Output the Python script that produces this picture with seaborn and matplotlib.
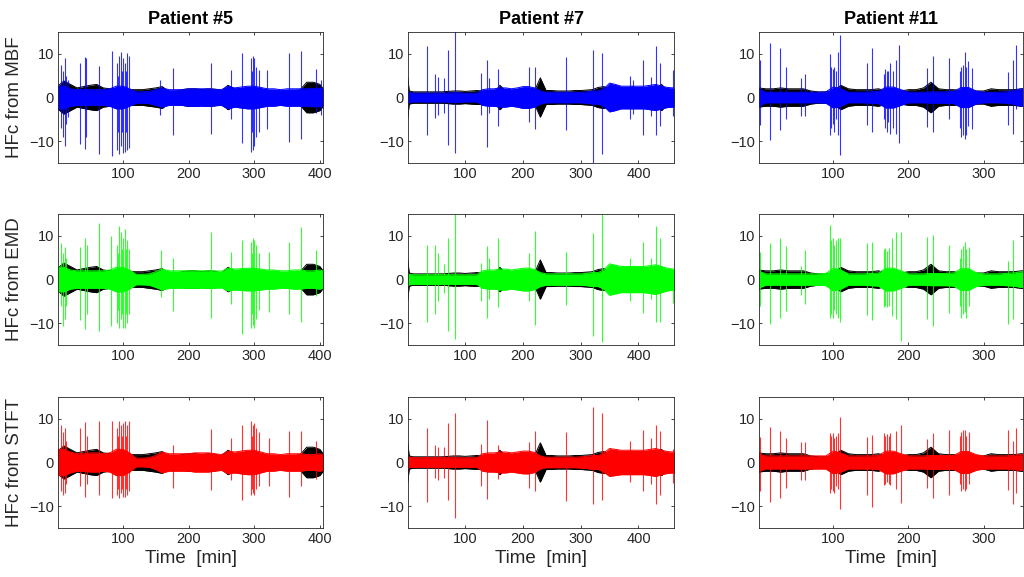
import numpy as np
import pandas as pd
import matplotlib
matplotlib.use("Agg")
import matplotlib.pyplot as plt
import seaborn as sns

# ---------------- data ----------------
patients = ["Patient #5", "Patient #7", "Patient #11"]
methods = ["MBF", "EMD", "STFT"]
method_colors = {"MBF": "#0000ff", "EMD": "#00ff00", "STFT": "#ff0000"}
x_limits = {"Patient #5": (1, 405), "Patient #7": (1, 462), "Patient #11": (1, 352)}
y_ticks = [-10, 0, 10]
x_ticks = [100, 200, 300, 400]

# envelope knot times [min]
p5_knots = list(range(0, 401, 10)) + [405]
p7_knots = [0, 3] + list(range(10, 461, 10)) + [462]
p11_knots = list(range(0, 351, 10)) + [352]

# black (raw) signal half-amplitude envelope at knots
p5_black = [2.5, 3.8, 3.0, 2.2, 2.5, 2.8, 3.0, 2.2, 2.0, 2.0, 2.0, 1.8, 1.8, 1.8, 2.0, 2.2,
            2.5, 1.3, 1.4, 1.8, 2.0, 2.0, 1.8, 2.0, 1.9, 1.5, 2.8, 2.0, 1.8, 2.0, 1.8, 1.6,
            1.5, 1.3, 1.2, 1.4, 1.5, 1.8, 3.5, 3.5, 3.0, 2.0]
p7_black = [5.0, 1.5, 1.3, 1.3, 1.3, 1.3, 1.3, 1.3, 1.4, 1.5, 1.5, 1.4, 1.5, 1.6, 1.5, 1.0,
            1.0, 2.8, 1.5, 1.4, 1.4, 1.5, 1.5, 1.5, 4.5, 1.6, 1.6, 1.5, 1.5, 1.5, 1.6, 1.6,
            1.7, 1.8, 2.3, 2.5, 2.0, 2.0, 2.0, 2.0, 2.5, 2.0, 2.0, 2.0, 2.0, 3.0, 1.6, 1.5, 1.5]
p11_black = [2.2, 2.0, 2.0, 2.2, 2.0, 2.0, 2.0, 1.5, 1.3, 1.3, 1.5, 2.8, 2.0, 1.8, 1.8, 1.8,
             2.0, 1.5, 1.5, 1.5, 1.8, 1.8, 2.2, 3.5, 2.0, 1.8, 1.8, 1.6, 1.6, 1.5, 1.5, 2.0,
             1.8, 1.8, 1.8, 2.0, 2.0]

# coloured HFc half-amplitude envelope at knots
p5_mbf_env = [2.6, 2.6, 2.0, 1.8, 1.8, 1.8, 1.8, 1.8, 2.0, 2.6, 2.6, 2.0, 1.3, 1.3, 1.4, 1.8,
              2.2, 1.8, 1.8, 1.8, 2.0, 2.0, 2.0, 2.0, 1.9, 1.8, 2.6, 2.2, 2.4, 2.6, 2.6, 2.3,
              2.0, 2.0, 1.8, 2.0, 2.0, 2.0, 2.0, 2.1, 2.1, 2.0]
p5_emd_env = [2.8, 2.8, 2.2, 2.0, 2.0, 2.0, 2.0, 2.0, 2.2, 2.8, 2.8, 2.2, 1.2, 1.2, 1.3, 1.8,
              2.4, 2.0, 2.0, 2.0, 2.0, 2.0, 2.0, 2.0, 2.0, 1.9, 2.6, 2.4, 2.5, 2.6, 2.6, 2.4,
              2.2, 2.2, 2.0, 2.0, 2.2, 2.2, 2.0, 2.0, 2.2, 2.0]
p5_stft_env = [3.0, 3.0, 2.4, 2.0, 2.0, 2.2, 2.2, 2.0, 2.2, 3.0, 3.0, 2.2, 1.0, 1.0, 1.1, 1.6,
               2.4, 2.0, 2.0, 2.0, 2.0, 2.2, 2.2, 2.2, 2.0, 1.8, 2.6, 2.4, 2.6, 2.8, 2.8, 2.4,
               2.0, 2.0, 1.8, 2.0, 2.0, 2.0, 1.8, 1.8, 2.0, 1.8]
p7_mbf_env = [1.5, 1.2, 1.0, 1.0, 1.0, 1.0, 1.0, 1.0, 1.0, 1.1, 1.1, 1.0, 1.0, 1.0, 1.8, 2.0,
              2.0, 2.2, 2.2, 2.0, 2.2, 2.5, 2.5, 2.2, 1.5, 1.2, 1.2, 1.2, 1.2, 1.2, 1.2, 1.2,
              1.3, 1.5, 1.5, 2.0, 3.3, 3.0, 2.6, 2.6, 2.6, 2.6, 2.6, 2.8, 3.0, 2.6, 2.3, 2.2, 2.2]
p7_emd_env = [1.5, 1.2, 1.1, 1.1, 1.1, 1.1, 1.1, 1.1, 1.1, 1.1, 1.1, 1.1, 1.1, 1.1, 2.0, 2.2,
              2.2, 2.4, 2.4, 2.2, 2.4, 2.6, 2.6, 2.3, 1.6, 1.3, 1.3, 1.3, 1.3, 1.3, 1.3, 1.3,
              1.4, 1.6, 1.6, 2.2, 3.6, 3.3, 3.0, 3.0, 3.0, 3.0, 3.0, 3.2, 3.4, 3.0, 2.6, 2.4, 2.4]
p7_stft_env = [1.5, 1.2, 1.1, 1.1, 1.1, 1.1, 1.1, 1.1, 1.1, 1.1, 1.1, 1.1, 1.1, 1.1, 2.0, 2.2,
               2.2, 2.4, 2.4, 2.2, 2.4, 2.6, 2.6, 2.3, 1.5, 1.2, 1.2, 1.2, 1.2, 1.2, 1.2, 1.3,
               1.4, 1.6, 1.6, 2.2, 3.2, 3.0, 2.8, 2.8, 2.8, 2.8, 2.8, 3.0, 3.2, 2.8, 2.5, 2.4, 2.4]
p11_mbf_env = [2.0, 1.2, 1.2, 1.2, 1.2, 1.2, 1.2, 1.2, 1.2, 1.3, 2.4, 2.0, 1.2, 1.2, 1.2, 1.3,
               1.4, 2.4, 2.4, 1.8, 1.2, 1.2, 1.2, 1.3, 1.3, 1.3, 1.4, 2.3, 2.3, 1.5, 1.2, 1.2,
               1.2, 1.3, 1.5, 2.0, 2.0]
p11_emd_env = [2.0, 1.3, 1.3, 1.3, 1.3, 1.3, 1.3, 1.3, 1.3, 1.4, 2.6, 2.2, 1.3, 1.3, 1.3, 1.4,
               1.5, 2.6, 2.6, 2.0, 1.3, 1.3, 1.3, 1.4, 1.4, 1.4, 1.5, 2.5, 2.5, 1.6, 1.3, 1.3,
               1.3, 1.4, 1.5, 1.8, 1.8]
p11_stft_env = [2.0, 1.5, 1.5, 1.5, 1.5, 1.5, 1.5, 1.5, 1.5, 1.5, 2.6, 2.2, 1.5, 1.5, 1.5, 1.5,
                1.6, 2.6, 2.6, 2.0, 1.5, 1.5, 1.5, 1.6, 1.6, 1.6, 1.6, 2.5, 2.5, 1.8, 1.5, 1.5,
                1.5, 1.5, 1.6, 1.8, 1.8]

# spikes: (time [min], max, min)
p5_mbf_spikes = [(6, 7.5, -7), (9, 6, -9), (11, 9, -11), (14, 5, -6), (17, 4, -4.5),
                 (35, 8, -10.6), (42, 9.3, -11.7), (44, 9, -9), (64, 7.2, -12.9), (83, 10.6, -13.3),
                 (91, 8, -12), (93, 5, -8), (94, 9.5, -13), (97, 10.5, -11), (99, 6, -8),
                 (100, 9, -12.8), (103, 8, -12.5), (105, 6, -8), (106, 10.3, -12),
                 (109, 9.5, -11.5), (157, 4, -4), (177, 6.8, -8.7), (234, 8, -8.3),
                 (265, 6.4, -5), (281, 10.2, -10.4), (295, 9, -12.5), (297, 6, -8),
                 (298, 9.5, -12), (300, 9, -11), (303, 7, -9), (308, 6.4, -8), (320, 6.4, -7.2),
                 (353, 10.2, -10.2), (371, 10.6, -9.5), (394, 6.5, -3.5), (402, 4, -4)]
p5_emd_spikes = [(6, 8.3, -6), (9, 6, -10.6), (11, 7.5, -9), (14, 5, -6), (34, 7.4, -9.2),
                 (42, 9.5, -11.4), (45, 8, -8), (64, 12.9, -11.7), (82, 10, -10.6), (91, 8, -10),
                 (93, 6, -7), (94, 12.3, -11.2), (97, 11, -9), (99, 7, -8), (100, 9.5, -11.2),
                 (103, 11.5, -11), (105, 7, -8), (106, 9, -10), (109, 7, -8), (158, 6.8, -4),
                 (177, 4.9, -7.2), (234, 10.8, -8.9), (265, 6.4, -5.5), (281, 9.1, -12.5),
                 (295, 8.5, -11), (297, 6, -8), (298, 9.6, -10.5), (300, 9, -11), (303, 8, -9),
                 (308, 6, -7), (322, 6.4, -7.5), (353, 8.7, -8), (371, 12, -9.8), (394, 6.8, -3.8)]
p5_stft_spikes = [(6, 8.6, -6.5), (9, 7, -7.4), (11, 8, -7), (14, 5, -5), (34, 7.9, -5.5),
                  (42, 9.2, -7.8), (45, 6, -5), (64, 9.4, -7.4), (83, 9.4, -8.2), (91, 8, -7.5),
                  (93, 6, -6), (94, 9.4, -8.2), (97, 8.5, -7), (99, 6, -6), (100, 9, -8),
                  (103, 9.4, -7.8), (105, 6, -6), (106, 8.5, -7.5), (109, 9.4, -6.5),
                  (177, 4, -5.9), (234, 7.6, -6.3), (265, 5.5, -4), (281, 8.6, -8.5),
                  (295, 9.4, -7.4), (297, 6, -6), (298, 8.5, -7), (300, 9, -7.4), (303, 8, -6),
                  (308, 7, -5.5), (322, 5.5, -5.5), (353, 7.1, -7.9), (371, 7.1, -5.5),
                  (394, 5, -3.8)]
p7_mbf_spikes = [(34, 11.9, -8.6), (48, 5.5, -4.7), (53, 4.7, -4.1), (64, 4.5, -3.5),
                 (71, 10.8, -10.9), (83, 16, -12.8), (127, 5.6, -4.1), (138, 8.5, -11.3),
                 (141, 4.5, -3.5), (156, 6.5, -6.6), (211, 7.1, -5.5), (220, 7.1, -7.1),
                 (274, 9.2, -7.5), (321, 10.9, -16), (337, 10.3, -13), (385, 4.9, -4.9),
                 (390, 4, -3.8), (408, 8.6, -8.6), (421, 4.8, -4.2), (431, 11.8, -8.6),
                 (438, 7.9, -6.6), (459, 6.4, -4.2)]
p7_emd_spikes = [(34, 8, -9.8), (48, 8, -8), (53, 6, -4.9), (64, 3.5, -3), (71, 9.6, -11.7),
                 (83, 16, -13.6), (127, 3.8, -4.9), (138, 7.6, -8.7), (141, 5, -4.5),
                 (156, 9.6, -6.4), (211, 6, -4.9), (220, 11.2, -10.5), (274, 6.4, -5.9),
                 (321, 10.6, -12.9), (337, 16, -14.2), (385, 5, -4.9), (408, 8.7, -7.6),
                 (421, 5, -4.5), (431, 12.3, -9.7), (438, 9.6, -9.8), (459, 2.5, -5.3)]
p7_stft_spikes = [(34, 7.9, -9.1), (48, 4, -3.5), (53, 3.6, -4), (64, 3.6, -3.5), (71, 9, -8.7),
                  (83, 11.3, -12.7), (127, 4.3, -5.5), (138, 9.8, -8.3), (156, 4, -3.8),
                  (211, 4.8, -5.9), (220, 7.1, -6.6), (274, 7, -8.9), (321, 12.8, -9.5),
                  (337, 11.3, -8.7), (385, 5, -4.5), (408, 7.5, -6.6), (421, 5.6, -5),
                  (431, 8.6, -9.5), (438, 7.1, -7.4), (459, 3, -4.8)]
p11_mbf_spikes = [(2, 8.6, -6.4), (15, 12.4, -9.8), (29, 11.3, -7.5), (37, 7.1, -4.9),
                  (57, 4.5, -4.2), (62, 5.5, -4.2), (95, 10, -8.6), (97, 7, -7), (99, 6.5, -6),
                  (101, 7, -8), (103, 6, -5), (106, 10.5, -8.5), (109, 14.3, -13.2),
                  (145, 7.9, -6.4), (152, 11.3, -7.9), (167, 5.5, -5), (169, 6.5, -7),
                  (171, 6, -8), (173, 6, -5.5), (176, 7.9, -8.3), (180, 6, -7),
                  (184, 8.5, -8.3), (188, 12, -10.5), (224, 6.7, -6.8), (233, 9.4, -7.9),
                  (254, 9, -4.9), (268, 6, -7), (270, 7, -9), (272, 7.5, -8.5),
                  (275, 10.5, -9.4), (277, 7, -8.5), (279, 8.3, -6.5), (284, 6.7, -7.3),
                  (333, 5.9, -6.4), (339, 8.6, -8.3), (343, 12, -2.6)]
p11_emd_spikes = [(2, 6.4, -6.1), (15, 8.3, -10.2), (29, 9.5, -8.7), (37, 7.6, -7.2),
                  (57, 3, -3.5), (62, 6.8, -5.7), (95, 12.5, -8.7), (97, 9, -8), (99, 9.5, -8.7),
                  (101, 8, -7), (103, 9, -8), (106, 9.5, -8.7), (109, 9.6, -9.8),
                  (145, 8.3, -8.2), (152, 8.7, -9.2), (167, 7, -6.4), (169, 7.2, -6),
                  (171, 6.5, -6.4), (174, 7.2, -6), (178, 9.5, -8.3), (184, 10.8, -9.1),
                  (190, 11, -14), (224, 9.8, -9.1), (232, 10.2, -10.6), (254, 8, -7.6),
                  (268, 5, -6), (270, 7, -8.7), (272, 7.6, -8), (275, 8.7, -7.5), (277, 7, -8.7),
                  (280, 7.5, -6), (333, 4.2, -10.2), (339, 9.1, -9.1)]
p11_stft_spikes = [(2, 5.8, -6.6), (15, 8.2, -9.1), (29, 7.3, -8.2), (37, 5.6, -5.9),
                   (57, 4.8, -4), (62, 4.8, -4), (95, 6.7, -7), (97, 6, -6), (99, 6.7, -6.5),
                   (101, 5.5, -7), (103, 6, -5.5), (106, 6.7, -6), (109, 10.5, -10.7),
                   (145, 5.8, -7.4), (152, 6.3, -10.2), (167, 6.7, -5.1), (169, 6, -5),
                   (171, 6.5, -4.5), (174, 6, -5), (176, 6.7, -5.1), (184, 7.1, -6),
                   (190, 8.6, -9.3), (224, 5.3, -5.9), (233, 6.7, -8.2), (254, 7.5, -7.4),
                   (268, 6, -5), (270, 7, -6.6), (272, 7.5, -6), (275, 7.5, -6.6), (277, 6, -6),
                   (280, 7, -5), (333, 7.5, -6.3), (339, 5, -9.5), (343, 8, -7)]

knots = {"Patient #5": p5_knots, "Patient #7": p7_knots, "Patient #11": p11_knots}
black = {"Patient #5": p5_black, "Patient #7": p7_black, "Patient #11": p11_black}
envs = {
    ("Patient #5", "MBF"): p5_mbf_env, ("Patient #5", "EMD"): p5_emd_env, ("Patient #5", "STFT"): p5_stft_env,
    ("Patient #7", "MBF"): p7_mbf_env, ("Patient #7", "EMD"): p7_emd_env, ("Patient #7", "STFT"): p7_stft_env,
    ("Patient #11", "MBF"): p11_mbf_env, ("Patient #11", "EMD"): p11_emd_env, ("Patient #11", "STFT"): p11_stft_env,
}
spikes = {
    ("Patient #5", "MBF"): p5_mbf_spikes, ("Patient #5", "EMD"): p5_emd_spikes, ("Patient #5", "STFT"): p5_stft_spikes,
    ("Patient #7", "MBF"): p7_mbf_spikes, ("Patient #7", "EMD"): p7_emd_spikes, ("Patient #7", "STFT"): p7_stft_spikes,
    ("Patient #11", "MBF"): p11_mbf_spikes, ("Patient #11", "EMD"): p11_emd_spikes, ("Patient #11", "STFT"): p11_stft_spikes,
}

# ---------------- style ----------------
sns.set_theme(style="ticks")
plt.rcParams["font.family"] = ["Liberation Sans", "DejaVu Sans"]
AX_GREY = "#262626"
plt.rcParams.update({
    "axes.edgecolor": AX_GREY, "axes.linewidth": 0.6,
    "xtick.color": AX_GREY, "ytick.color": AX_GREY,
    "xtick.direction": "in", "ytick.direction": "in",
    "xtick.major.size": 2.5, "ytick.major.size": 2.5,
    "xtick.major.width": 0.6, "ytick.major.width": 0.6,
    "xtick.labelsize": 10.5, "ytick.labelsize": 10.5,
})

fig = plt.figure(figsize=(10.24, 5.77), dpi=100)
col_left = [0.0566, 0.3985, 0.7412]
col_width = [0.2590, 0.2600, 0.2575]
row_bottom = [0.7175, 0.4020, 0.0850]
row_height = 0.2270


def band(ax, t, half, color, z):
    half = np.asarray(half)
    ax.fill_between(t, -half, half, color=color, lw=0, zorder=z)
    df = pd.DataFrame({"t": list(t) + list(t), "v": list(half) + list(-half),
                       "side": ["hi"] * len(t) + ["lo"] * len(t)})
    sns.lineplot(data=df, x="t", y="v", units="side", estimator=None,
                 color=color, lw=0.7, ax=ax, legend=False, zorder=z + 0.05)


for c, pat in enumerate(patients):
    t_k = knots[pat]
    for r, meth in enumerate(methods):
        ax = fig.add_axes([col_left[c], row_bottom[r], col_width[c], row_height])
        col = method_colors[meth]
        band(ax, t_k, black[pat], "black", 1.0)
        band(ax, t_k, envs[(pat, meth)], col, 1.2)
        sp = spikes[(pat, meth)]
        ax.vlines([s[0] for s in sp], [s[2] for s in sp], [s[1] for s in sp],
                  colors=col, lw=0.8, alpha=0.8, zorder=1.4)

        ax.set_xlim(*x_limits[pat])
        ax.set_ylim(-15, 15)
        ax.set_yticks(y_ticks)
        ax.set_xticks([x for x in x_ticks if x <= x_limits[pat][1]])
        ax.tick_params(top=True, right=True, pad=3)
        for s in ax.spines.values():
            s.set_visible(True)
            s.set_zorder(3)
        ax.set_ylabel("")
        ax.set_xlabel("")
        if r == 0:
            ax.set_title(pat, fontsize=13, fontweight="bold", color="black", pad=6)
        if c == 0:
            ax.set_ylabel(f"HFc from {meth}", fontsize=13.5, color=AX_GREY, labelpad=4)
        if r == 2:
            ax.set_xlabel("Time  [min]", fontsize=13.5, color=AX_GREY, labelpad=3)

fig.savefig("out.png", dpi=100)
